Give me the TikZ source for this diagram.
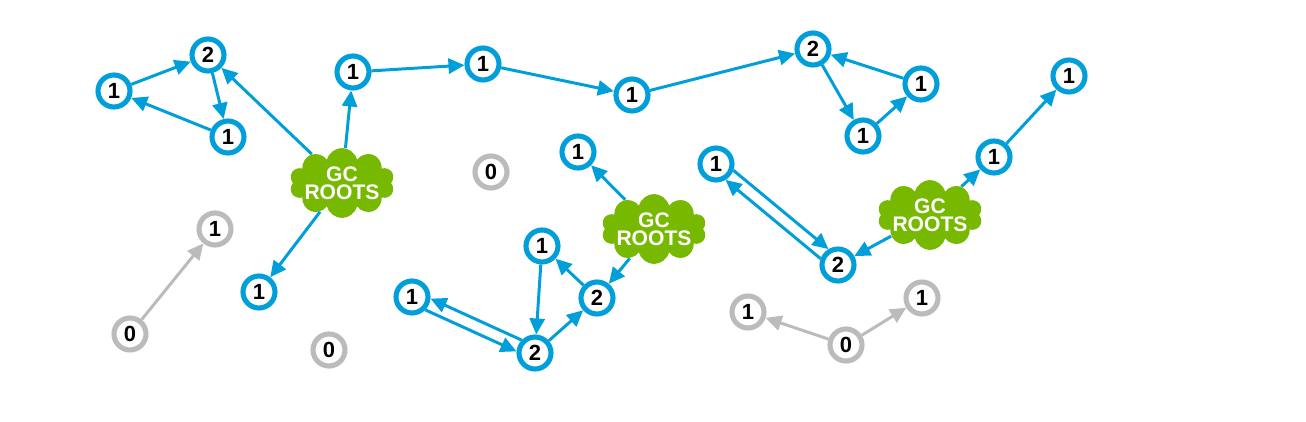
\documentclass[tikz,border=0pt]{standalone}
\usepackage{fontspec}
\setmainfont{Liberation Sans}
\usetikzlibrary{shapes.symbols,arrows.meta}
\definecolor{refblue}{RGB}{0,159,218}
\definecolor{rootgreen}{RGB}{118,185,0}
\definecolor{deadgray}{RGB}{187,187,187}
\begin{document}
\begin{tikzpicture}[x=0.02cm,y=-0.02cm,
    obj/.style={circle,draw=refblue,line width=2.9pt,fill=white,minimum size=0.64cm,inner sep=0pt,font=\fontsize{12.5}{12}\selectfont\bfseries},
    dead/.style={obj,draw=deadgray},
    root/.style={cloud,cloud puffs=10,aspect=1.9,fill=rootgreen,minimum width=2.1cm,minimum height=1.4cm,inner sep=-3pt,text=white,align=center,font=\fontsize{12}{10.5}\selectfont\bfseries},
    ref/.style={-{Triangle[length=0.32cm,width=0.3cm]},draw=refblue,line width=1.7pt},
    deadref/.style={ref,draw=deadgray}]
                \useasboundingbox (0,0) rectangle (1306,422);
                %% GC roots
                \node[root] (R1) at (342,183) {GC\\ROOTS};
                \node[root] (R2) at (654,229) {GC\\ROOTS};
                \node[root] (R3) at (930,215) {GC\\ROOTS};
                %% live objects, left
                \node[obj] (A1) at (114,91) {1};
                \node[obj] (A2) at (208,55) {2};
                \node[obj] (A3) at (228,137) {1};
                \node[obj] (B1) at (353,72) {1};
                \node[obj] (B2) at (483,64) {1};
                \node[obj] (B3) at (632,95) {1};
                \node[obj] (C2) at (813,49) {2};
                \node[obj] (C3) at (921,84) {1};
                \node[obj] (C4) at (863,136) {1};
                \node[obj] (D1) at (259,292) {1};
                %% live objects, middle
                \node[obj] (E1) at (578,152) {1};
                \node[obj] (F1) at (542,246) {1};
                \node[obj] (F2) at (597,298) {2};
                \node[obj] (G1) at (412,297) {1};
                \node[obj] (G2) at (535,353) {2};
                %% live objects, right
                \node[obj] (H1) at (716,164) {1};
                \node[obj] (H2) at (838,265) {2};
                \node[obj] (I1) at (994,157) {1};
                \node[obj] (I2) at (1069,76) {1};
                %% garbage
                \node[dead] (X1) at (215,229) {1};
                \node[dead] (X0) at (130,334) {0};
                \node[dead] (Y0) at (491,172) {0};
                \node[dead] (Z0) at (329,350) {0};
                \node[dead] (W1) at (748,312) {1};
                \node[dead] (W0) at (846,345) {0};
                \node[dead] (W2) at (922,298) {1};
                %% references
                \draw[ref] (A1) -- (A2);
                \draw[ref] (A2) -- (A3);
                \draw[ref] (A3) -- (A1);
                \draw[ref] (R1) -- (A2);
                \draw[ref] (R1) -- (B1);
                \draw[ref] (R1) -- (D1);
                \draw[ref] (B1) -- (B2);
                \draw[ref] (B2) -- (B3);
                \draw[ref] (B3) -- (C2);
                \draw[ref] (C2) -- (C4);
                \draw[ref] (C4) -- (C3);
                \draw[ref] (C3) -- (C2);
                \draw[ref] (R2) -- (E1);
                \draw[ref] (R2) -- (F2);
                \draw[ref] (F2) -- (F1);
                \draw[ref] (F1) -- (G2);
                \draw[ref] (G2) -- (F2);
                \draw[ref] (G1.-44) -- (G2.175);
                \draw[ref] (G2.136) -- (G1.-5);
                \draw[ref] (R3) -- (H2);
                \draw[ref] (R3) -- (I1);
                \draw[ref] (I1) -- (I2);
                \draw[ref] (H1.-20) -- (H2.121);
                \draw[ref] (H2.160) -- (H1.-59);
                \draw[deadref] (X0) -- (X1);
                \draw[deadref] (W0) -- (W1);
                \draw[deadref] (W0) -- (W2);
\end{tikzpicture}
\end{document}
